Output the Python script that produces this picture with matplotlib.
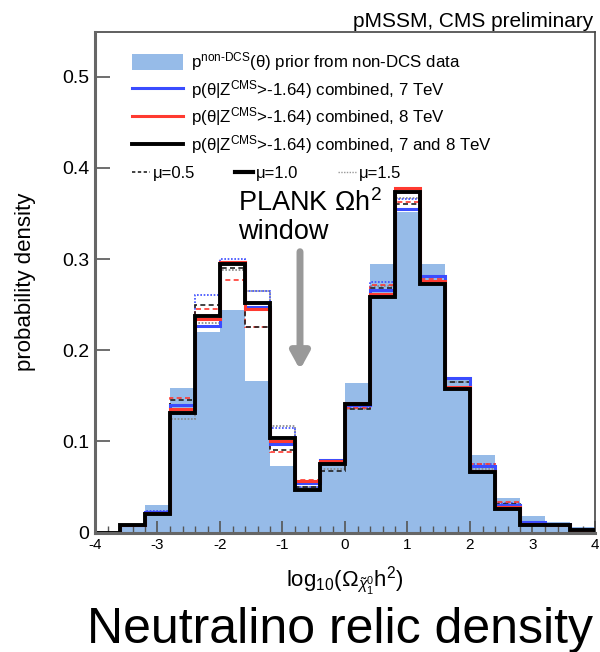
import numpy as np
import matplotlib
matplotlib.use("Agg")
import matplotlib.pyplot as plt
from matplotlib.patches import Patch
from matplotlib.lines import Line2D

plt.rcParams['font.family'] = ['Liberation Sans', 'DejaVu Sans']
plt.rcParams['mathtext.fontset'] = 'custom'
plt.rcParams['mathtext.rm'] = 'Liberation Sans'
plt.rcParams['mathtext.it'] = 'Liberation Sans:italic'

# bin edges of log10(Omega h^2)
edges = np.linspace(-4, 4, 21)

prior = [0.0, 0.008, 0.03, 0.158, 0.22, 0.244, 0.166, 0.073, 0.05, 0.08,
         0.164, 0.295, 0.352, 0.295, 0.17, 0.085, 0.038, 0.018, 0.012, 0.006]
p7 = [0.0, 0.008, 0.022, 0.14, 0.226, 0.297, 0.247, 0.097, 0.054, 0.08,
      0.14, 0.266, 0.355, 0.281, 0.169, 0.073, 0.03, 0.012, 0.009, 0.004]
p8 = [0.0, 0.008, 0.021, 0.136, 0.234, 0.297, 0.245, 0.1, 0.057, 0.078,
      0.142, 0.262, 0.378, 0.276, 0.16, 0.068, 0.028, 0.009, 0.008, 0.003]
p78 = [0.0, 0.008, 0.02, 0.131, 0.237, 0.294, 0.252, 0.104, 0.047, 0.075,
       0.141, 0.258, 0.373, 0.273, 0.157, 0.066, 0.026, 0.008, 0.008, 0.003]
p8_mu05 = [0.0, 0.008, 0.022, 0.148, 0.245, 0.277, 0.225, 0.088, 0.058, 0.075,
           0.137, 0.272, 0.362, 0.278, 0.168, 0.075, 0.033, 0.011, 0.009, 0.004]
p78_mu05 = [0.0, 0.008, 0.022, 0.145, 0.25, 0.29, 0.225, 0.09, 0.05, 0.067,
            0.135, 0.268, 0.36, 0.276, 0.165, 0.072, 0.031, 0.01, 0.008, 0.003]
p7_mu15 = [0.0, 0.008, 0.024, 0.13, 0.26, 0.3, 0.265, 0.115, 0.05, 0.08,
           0.138, 0.275, 0.366, 0.28, 0.17, 0.075, 0.032, 0.012, 0.009, 0.004]
p78_mu15 = [0.0, 0.008, 0.021, 0.125, 0.23, 0.288, 0.265, 0.117, 0.05, 0.07,
            0.135, 0.27, 0.367, 0.28, 0.165, 0.07, 0.03, 0.01, 0.008, 0.003]

xticks = [-4, -3, -2, -1, 0, 1, 2, 3, 4]
yticks = [0, 0.1, 0.2, 0.3, 0.4, 0.5]
yticklabels = ['0', '0.1', '0.2', '0.3', '0.4', '0.5']

FILL = '#96bbe8'
BLUE = '#3a4cff'
RED = '#ff3a30'

fig = plt.figure(figsize=(6.0, 6.52), dpi=100)
ax = fig.add_axes([95/600, 1 - 532.5/652, 500/600, (532.5 - 32)/652])

ax.stairs(prior, edges, fill=True, color=FILL, lw=0, zorder=1)
ax.stairs(p78_mu15, edges, color='#888888', lw=1.2, ls=(0, (1, 1)), zorder=2)
ax.stairs(p7_mu15, edges, color=BLUE, lw=1.2, ls=(0, (1, 1)), zorder=2)
ax.stairs(p8_mu05, edges, color=RED, lw=1.2, ls=(0, (3, 2)), zorder=2)
ax.stairs(p78_mu05, edges, color='#222222', lw=1.2, ls=(0, (3, 2)), zorder=2)
ax.stairs(p7, edges, color=BLUE, lw=2.2, zorder=3)
ax.stairs(p8, edges, color=RED, lw=2.2, zorder=3)
ax.stairs(p78, edges, color='black', lw=2.8, zorder=4)

ax.set_xlim(-4, 4)
ax.set_ylim(0, 0.549)
ax.set_xticks(xticks)
ax.set_xticklabels([str(t) if t >= 0 else '-' + str(-t) for t in xticks])
ax.set_xticks(np.arange(-4, 4.01, 0.2), minor=True)
ax.set_yticks(yticks)
ax.set_yticklabels(yticklabels)
ax.tick_params(axis='x', which='major', direction='in', length=9, width=1.2,
               color='#555555', labelsize=11, pad=4)
ax.tick_params(axis='x', which='minor', direction='in', length=5, width=1.0,
               color='#555555')
ax.tick_params(axis='y', which='major', direction='in', length=11, width=1.2,
               color='#555555', labelsize=14, pad=4)
for s in ['left', 'bottom']:
    ax.spines[s].set_color('#666666')
    ax.spines[s].set_linewidth(2.2)
for s in ['top', 'right']:
    ax.spines[s].set_color('#444444')
    ax.spines[s].set_linewidth(1.2)
ax.spines['left'].set_zorder(6)
ax.spines['bottom'].set_zorder(6)

ax.set_ylabel('probability density', fontsize=16, labelpad=19)
ax.set_xlabel(r'log$_{10}$($\Omega_{\tilde{\chi}^0_1}$h$^2$)', fontsize=16, labelpad=9)

handles = [Patch(facecolor=FILL, edgecolor='none'),
           Line2D([], [], color=BLUE, lw=2.2),
           Line2D([], [], color=RED, lw=2.2),
           Line2D([], [], color='black', lw=2.8)]
labels = [r'p$^{\mathrm{non}\text{-}\mathrm{DCS}}$(θ) prior from non-DCS data',
          r'p(θ|Z$^{\mathrm{CMS}}$>-1.64) combined, 7 TeV',
          r'p(θ|Z$^{\mathrm{CMS}}$>-1.64) combined, 8 TeV',
          r'p(θ|Z$^{\mathrm{CMS}}$>-1.64) combined, 7 and 8 TeV']
leg1 = ax.legend(handles, labels, loc='upper left', bbox_to_anchor=(0.06, 0.977),
                 frameon=False, fontsize=12.2, handlelength=3.0, handleheight=1.05,
                 handletextpad=0.5, labelspacing=0.28, borderaxespad=0)
ax.add_artist(leg1)

mu_handles = [Line2D([], [], color='#222222', lw=1.2, ls=(0, (2, 1.5))),
              Line2D([], [], color='black', lw=3.0),
              Line2D([], [], color='#999999', lw=1.0, ls=(0, (1, 1)))]
mu_labels = ['μ=0.5', 'μ=1.0', 'μ=1.5']
leg2 = ax.legend(mu_handles, mu_labels, loc='upper left', bbox_to_anchor=(0.06, 0.745),
                 frameon=False, fontsize=12, ncol=3, handlelength=1.1,
                 handletextpad=0.15, columnspacing=2.4, borderaxespad=0)

ax.text(-1.712, 0.377, 'PLANK Ωh$^2$\nwindow', fontsize=19.5, ha='left', va='top',
        linespacing=1.1, zorder=8)
ax.annotate('', xy=(-0.72, 0.1786), xytext=(-0.72, 0.308),
            arrowprops=dict(arrowstyle='-|>,head_length=1.0,head_width=0.55',
                            color='#999999', lw=5, shrinkA=0, shrinkB=0), zorder=8)

fig.text(593/600, 1 - 27/652, 'pMSSM, CMS preliminary', fontsize=15,
         ha='right', va='baseline')
fig.text(87/600, 1 - 643/652, 'Neutralino relic density', fontsize=36,
         ha='left', va='baseline')

fig.savefig('out.png', dpi=100)
